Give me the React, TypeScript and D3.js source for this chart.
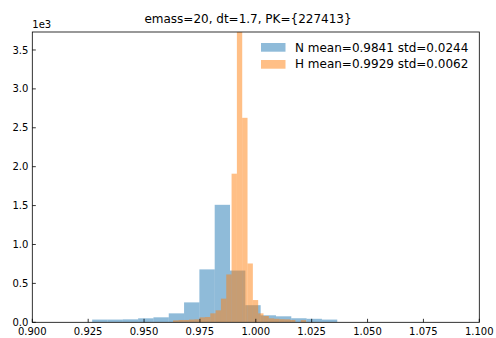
import React from "react";
import * as d3 from "d3";

const title = "emass=20, dt=1.7, PK={227413}";
const xTicks = [0.9, 0.925, 0.95, 0.975, 1.0, 1.025, 1.05, 1.075, 1.1];
const yTicks = [0, 500, 1000, 1500, 2000, 2500, 3000, 3500];

const nStart = 0.92679;
const nWidth = 0.006853;
const nCounts = [35, 35, 38, 51, 64, 115, 256, 680, 1510, 665, 220, 90, 77, 52, 45, 35];

const hStart = 0.96298;
const hWidth = 0.00238;
const hCounts = [25, 30, 30, 35, 38, 64, 68, 115, 154, 304, 615, 1910, 3800, 2628, 756, 286, 115, 81, 51, 45, 40, 38, 30, 0, 28];

const legendLabels = ["N mean=0.9841 std=0.0244", "H mean=0.9929 std=0.0062"];
const colors = ["#1f77b4", "#ff7f0e"];

const W = 496, H = 338;
const m = { left: 32.3, right: 479.3, top: 32, bottom: 322.3 };

export default function App() {
  const x = d3.scaleLinear().domain([0.9, 1.1]).range([m.left, m.right]);
  const y = d3.scaleLinear().domain([0, 3731]).range([m.bottom, m.top]);
  const font = "DejaVu Sans, sans-serif";

  const series = [
    { start: nStart, width: nWidth, counts: nCounts, color: colors[0] },
    { start: hStart, width: hWidth, counts: hCounts, color: colors[1] },
  ];

  return (
    <svg width={W} height={H} style={{ position: "absolute", left: 0, top: 0, background: "#fff" }}>
      <defs>
        <clipPath id="plot">
          <rect x={m.left} y={m.top} width={m.right - m.left} height={m.bottom - m.top} />
        </clipPath>
      </defs>
      <rect x={0} y={0} width={W} height={H} fill="#fff" />
      <g clipPath="url(#plot)">
        {series.map((s, si) =>
          s.counts.map((c, i) => {
            const x0 = x(s.start + i * s.width);
            const x1 = x(s.start + (i + 1) * s.width);
            if (c <= 0) return null;
            return (
              <rect
                key={si + "-" + i}
                x={x0}
                y={y(c)}
                width={x1 - x0}
                height={y(0) - y(c)}
                fill={s.color}
                fillOpacity={0.5}
              />
            );
          })
        )}
      </g>
      <rect x={m.left} y={m.top} width={m.right - m.left} height={m.bottom - m.top} fill="none" stroke="#000" strokeWidth={0.8} />
      {xTicks.map((t) => (
        <g key={"x" + t}>
          <line x1={x(t)} x2={x(t)} y1={m.bottom} y2={m.bottom - 3.5} stroke="#000" strokeWidth={0.8} />
          <text x={x(t)} y={m.bottom + 13} textAnchor="middle" fontSize={10} fontFamily={font} fill="#000">
            {t.toFixed(3)}
          </text>
        </g>
      ))}
      {yTicks.map((t) => (
        <g key={"y" + t}>
          <line x1={m.left} x2={m.left + 3.5} y1={y(t)} y2={y(t)} stroke="#000" strokeWidth={0.8} />
          <text x={m.left - 4} y={y(t) + 3.6} textAnchor="end" fontSize={10} fontFamily={font} fill="#000">
            {(t / 1000).toFixed(1)}
          </text>
        </g>
      ))}
      <text x={m.left} y={m.top - 4} fontSize={10} fontFamily={font} fill="#000">1e3</text>
      <text x={W / 2} y={22.5} textAnchor="middle" fontSize={12} fontFamily={font} fill="#000">
        {title}
      </text>
      {legendLabels.map((l, i) => (
        <g key={"l" + i}>
          <rect x={261} y={43 + i * 17} width={24.5} height={8.7} fill={colors[i]} fillOpacity={0.5} />
          <text x={295} y={51.5 + i * 16.2} fontSize={12} fontFamily={font} fill="#000">
            {l}
          </text>
        </g>
      ))}
    </svg>
  );
}
